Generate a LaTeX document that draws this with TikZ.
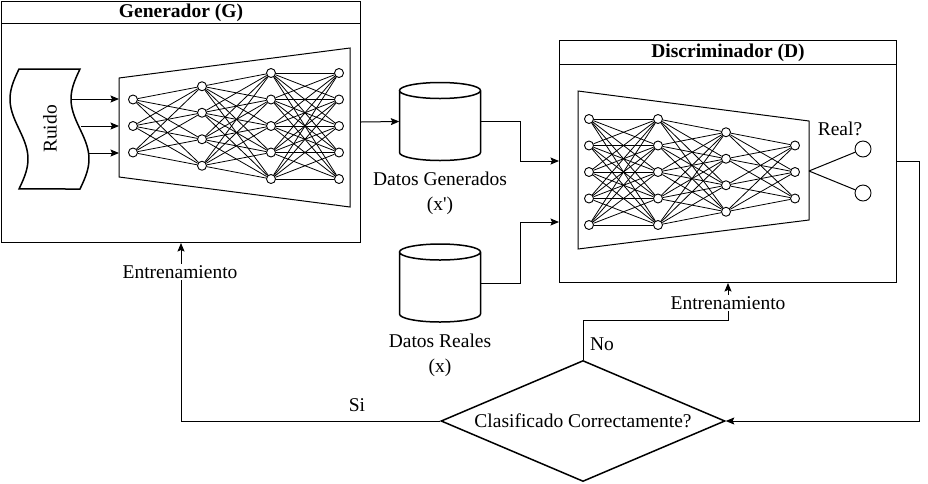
\documentclass[tikz,border=0pt]{standalone}
\usepackage{fontspec}
\setmainfont{Liberation Serif}
\usetikzlibrary{positioning,shapes.geometric,arrows.meta}

\tikzset{
    lane/.style={draw, line width=1pt, inner sep=0pt, anchor=north west},
    lanetitle/.style={lane, font=\fontsize{19.5}{25}\selectfont\bfseries},
    neuron/.style={circle, draw, fill=white, line width=0.9pt, inner sep=0pt, minimum size=9pt},
    outneuron/.style={neuron, minimum size=16pt},
    link/.style={line width=0.8pt},
    flow/.style={line width=1pt, -{Stealth[length=8.5pt,width=7pt,inset=1.5pt]}},
    bigshape/.style={line width=1.5pt},
    lbl/.style={fill=white, inner sep=1pt}
}

\begin{document}
\begin{tikzpicture}[
                    x=1pt, y=-1pt,
                    font=\fontsize{19.5}{25}\selectfont,
                    node distance=8pt
                ]
                \useasboundingbox (0,0) rectangle (928,483);

                % generador
                \node[lane, minimum width=359pt, minimum height=241pt] (gen) at (1,1) {};
                \node[lanetitle, minimum width=359pt, minimum height=22pt] (gentitle) at (1,1) {Generador (G)};

                \draw[bigshape, fill=white] plot[domain=0:1, samples=40] ({19-9*sin(360*\x)}, {69+120*\x})
                    -- plot[domain=1:0, samples=40] ({80-9*sin(360*\x)}, {69+120*\x}) -- cycle;
                \node[rotate=90] (ruido) at (50,129) {Ruido};

                \draw[line width=1pt] (119,78) -- (350,48) -- (350,207) -- (119,177) -- cycle;
                \foreach \i/\y/\xs in {1/99/71, 2/126/81, 3/153/89} {
                    \coordinate (rin\i) at (\xs,\y);
                    \coordinate (gin\i) at (119,\y);
                    \draw[flow] (rin\i) -- (gin\i);
                }

                \foreach \l/\n/\x in {1/3/133, 2/4/202, 3/5/271, 4/5/339}
                    \foreach \i in {1,...,\n}
                        \node[neuron] (g\l-\i) at (\x,{126+(\i-(\n+1)/2)*26.5}) {};
                \foreach \l/\k/\n/\m in {1/2/3/4, 2/3/4/5, 3/4/5/5}
                    \foreach \i in {1,...,\n}
                        \foreach \j in {1,...,\m}
                            \draw[link] (g\l-\i) -- (g\k-\j);

                % datos
                \node[minimum width=81pt, minimum height=78pt] (dgen) at (440,121.5) {};
                \draw[bigshape] (399.5,90.5) -- (399.5,152.5)
                    arc[start angle=180, end angle=360, x radius=40.5pt, y radius=8pt]
                    -- (480.5,90.5) arc[start angle=0, end angle=360, x radius=40.5pt, y radius=8pt];
                \node[align=center, below=8pt of dgen] (lblgen) {Datos Generados\\(x\textquotesingle)};

                \node[minimum width=81pt, minimum height=78pt] (dreal) at (440,283) {};
                \draw[bigshape] (399.5,252) -- (399.5,314)
                    arc[start angle=180, end angle=360, x radius=40.5pt, y radius=8pt]
                    -- (480.5,252) arc[start angle=0, end angle=360, x radius=40.5pt, y radius=8pt];
                \node[align=center, below=8pt of dreal] (lblreal) {Datos Reales\\(x)};

                % discriminador
                \node[lane, minimum width=337pt, minimum height=242pt] (dis) at (559,40) {};
                \node[lanetitle, minimum width=337pt, minimum height=24pt] (distitle) at (559,40) {Discriminador (D)};

                \draw[line width=1pt] (578,91) -- (809,121) -- (809,220) -- (578,249) -- cycle;
                \foreach \l/\n/\x in {1/5/589, 2/5/658, 3/4/726, 4/3/795}
                    \foreach \i in {1,...,\n}
                        \node[neuron] (d\l-\i) at (\x,{172+(\i-(\n+1)/2)*26.5}) {};
                \foreach \l/\k/\n/\m in {1/2/5/5, 2/3/5/4, 3/4/4/3}
                    \foreach \i in {1,...,\n}
                        \foreach \j in {1,...,\m}
                            \draw[link] (d\l-\i) -- (d\k-\j);

                \coordinate (dout) at (809,171);
                \node[outneuron] (o1) at (863,149) {};
                \node[outneuron] (o2) at (863,193) {};
                \draw[line width=1pt] (dout) -- (o1);
                \draw[line width=1pt] (dout) -- (o2);
                \node (real) at (840,129) {Real?};

                % decision
                \node[diamond, draw, bigshape, aspect=2.35, inner sep=0pt,
                      minimum width=284pt, minimum height=121pt] (clas) at (583,421) {Clasificado Correctamente?};

                \coordinate (din1) at (559,161);
                \coordinate (din2) at (559,222);
                \draw[flow] (gen.east) -- (dgen.west);
                \draw[flow] (dgen.east) -- ++(40,0) |- (din1);
                \draw[flow] (dreal.east) -- ++(40,0) |- (din2);
                \draw[flow] (dis.east) -- ++(22,0) |- (clas.east);
                \draw[flow] (clas.west) -| (gen.south);
                \draw[flow] (clas.north) -- ++(0,-39) -| (dis.south);

                \node[lbl] (entg) at (180,272) {Entrenamiento};
                \node[lbl] (entd) at (728,303) {Entrenamiento};
                \node (si) at (357,405) {Si};
                \node (no) at (602,344) {No};
\end{tikzpicture}
\end{document}
